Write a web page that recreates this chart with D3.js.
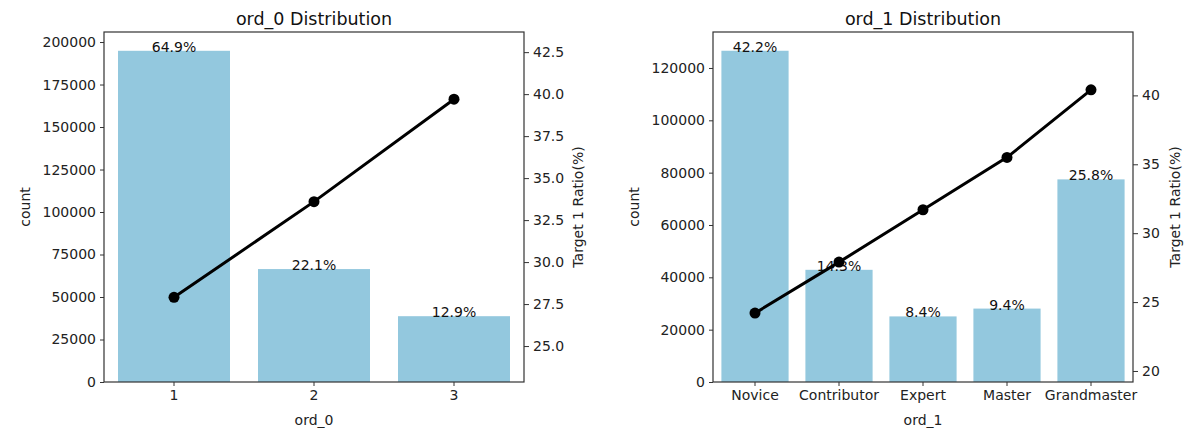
<!DOCTYPE html>
<html><head><meta charset="utf-8">
<script src="https://cdn.jsdelivr.net/npm/d3@7"></script>
<style>
body{margin:0;background:#fff}
svg{display:block}
text{font-family:"DejaVu Sans",sans-serif}
</style>
</head><body><svg id="c" width="1193" height="448"></svg>
<script>
// ---- data ----
const ord0Categories = ["1","2","3"];
const ord0Counts = [194845, 66438, 38717];
const ord0Labels = ["64.9%","22.1%","12.9%"];
const ord0Target = [27.9, 33.6, 39.7];
const ord0CountTicks = [0,25000,50000,75000,100000,125000,150000,175000,200000];
const ord0TargetTicks = [25,27.5,30,32.5,35,37.5,40,42.5];

const ord1Categories = ["Novice","Contributor","Expert","Master","Grandmaster"];
const ord1Counts = [126583, 42871, 25065, 28053, 77428];
const ord1Labels = ["42.2%","14.3%","8.4%","9.4%","25.8%"];
const ord1Target = [24.2, 27.9, 31.7, 35.5, 40.4];
const ord1CountTicks = [0,20000,40000,60000,80000,100000,120000];
const ord1TargetTicks = [20,25,30,35,40];

const panels = [
  {title:"ord_0 Distribution", xLabel:"ord_0", cats:ord0Categories, counts:ord0Counts, labels:ord0Labels,
   target:ord0Target, countTicks:ord0CountTicks, targetTicks:ord0TargetTicks,
   countMax:205900, targetDomain:[22.86,43.7], fmt:d3.format(".1f"),
   x0:104, x1:524, countLabelX:25, targetLabelX:578},
  {title:"ord_1 Distribution", xLabel:"ord_1", cats:ord1Categories, counts:ord1Counts, labels:ord1Labels,
   target:ord1Target, countTicks:ord1CountTicks, targetTicks:ord1TargetTicks,
   countMax:133750, targetDomain:[19.2,44.6], fmt:d3.format("d"),
   x0:713, x1:1133, countLabelX:634, targetLabelX:1175}
];

const plotTop = 32, plotBottom = 382;
const barColor = "#93c8de";
const fs = "14px";
const svg = d3.select("#c");

function styleAxis(g){
  g.select(".domain").remove();
  g.selectAll(".tick line").attr("stroke","#333").attr("stroke-width",1);
  g.selectAll(".tick text").attr("fill","#222").style("font-size",fs).style("font-family","DejaVu Sans");
}

panels.forEach(p => {
  const x = d3.scaleBand().domain(p.cats).range([p.x0,p.x1]).paddingInner(0.2).paddingOuter(0.1);
  const y = d3.scaleLinear().domain([0,p.countMax]).range([plotBottom,plotTop]);
  const y2 = d3.scaleLinear().domain(p.targetDomain).range([plotBottom,plotTop]);
  const g = svg.append("g");

  g.selectAll("rect.bar").data(p.cats).join("rect")
    .attr("x", c => x(c)).attr("width", x.bandwidth())
    .attr("y", (c,i) => y(p.counts[i])).attr("height", (c,i) => plotBottom - y(p.counts[i]))
    .attr("fill", barColor);

  g.selectAll("text.ann").data(p.cats).join("text")
    .attr("x", c => x(c) + x.bandwidth()/2).attr("y", (c,i) => y(p.counts[i]) + 1)
    .attr("text-anchor","middle").attr("fill","#111").style("font-size",fs)
    .text((c,i) => p.labels[i]);

  g.append("g").attr("transform",`translate(${p.x0},0)`)
    .call(d3.axisLeft(y).tickValues(p.countTicks).tickFormat(d3.format("d")).tickSize(4).tickPadding(4)).call(styleAxis);
  g.append("g").attr("transform",`translate(0,${plotBottom})`)
    .call(d3.axisBottom(x).tickSize(4).tickPadding(4)).call(styleAxis);
  g.append("g").attr("transform",`translate(${p.x1},0)`)
    .call(d3.axisRight(y2).tickValues(p.targetTicks).tickFormat(p.fmt).tickSize(5).tickPadding(4)).call(styleAxis);

  const line = d3.line().x((c,i) => x(c) + x.bandwidth()/2).y((c,i) => y2(p.target[i]));
  g.append("path").datum(p.cats).attr("d", line).attr("fill","none").attr("stroke","#000").attr("stroke-width",3);
  g.selectAll("circle.pt").data(p.cats).join("circle")
    .attr("cx", c => x(c) + x.bandwidth()/2).attr("cy", (c,i) => y2(p.target[i])).attr("r",5.5).attr("fill","#000");

  g.append("rect").attr("x",p.x0).attr("y",plotTop).attr("width",p.x1-p.x0).attr("height",plotBottom-plotTop)
    .attr("fill","none").attr("stroke","#333").attr("stroke-width",1.2);

  const cx = (p.x0+p.x1)/2, cy = (plotTop+plotBottom)/2;
  g.append("text").attr("x",cx).attr("y",25).attr("text-anchor","middle").attr("fill","#111")
    .style("font-size","17.5px").text(p.title);
  g.append("text").attr("x",cx).attr("y",425).attr("text-anchor","middle").attr("fill","#222")
    .style("font-size",fs).text(p.xLabel);
  g.append("text").attr("transform",`translate(${p.countLabelX},${cy}) rotate(-90)`).attr("text-anchor","middle")
    .attr("dy","0.35em").attr("fill","#222").style("font-size",fs).text("count");
  g.append("text").attr("transform",`translate(${p.targetLabelX},${cy}) rotate(-90)`).attr("text-anchor","middle")
    .attr("dy","0.35em").attr("fill","#222").style("font-size",fs).text("Target 1 Ratio(%)");
});
</script>
</body></html>
